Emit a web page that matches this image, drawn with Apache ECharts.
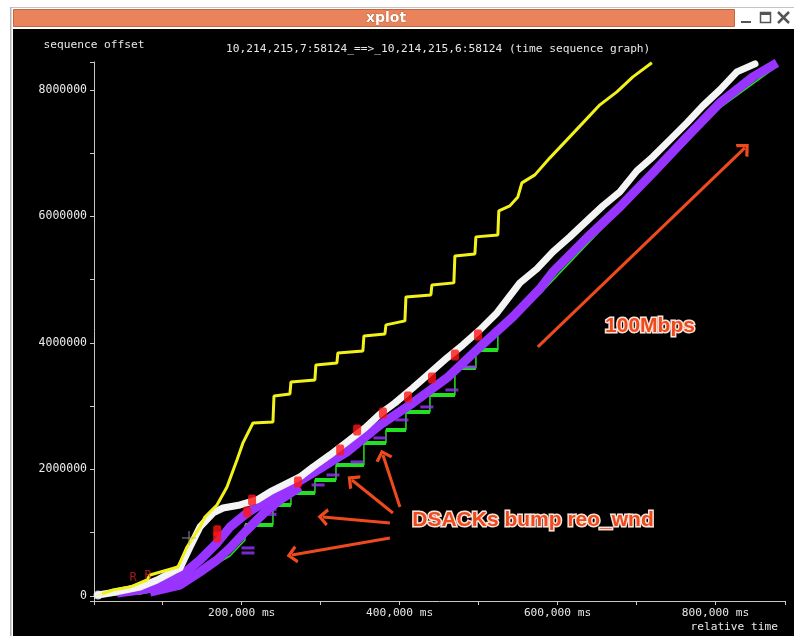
<!DOCTYPE html>
<html>
<head>
<meta charset="utf-8">
<script src="https://cdn.jsdelivr.net/npm/echarts@6/dist/echarts.min.js"></script>
<style>
  html, body { margin: 0; padding: 0; background: #fff; }
  #chart { width: 794px; height: 636px; }
</style>
</head>
<body>
<div id="chart"></div>
<script>
// xplot time sequence graph, relative time (ms) vs sequence offset (bytes).
// Values.

// yellow: advertised receive window edge
const advWindow = [
  [16000, 0], [37000, 95000], [58600, 142000], [80100, 253000], [83900, 332000],
  [119400, 458000], [130800, 775000], [147200, 1091000], [153500, 1249000], [168700, 1439000],
  [181400, 1723000], [194000, 2150000], [201600, 2419000], [214300, 2735000], [239600, 2751000],
  [240900, 3162000], [261100, 3194000], [262400, 3383000], [292700, 3415000], [294000, 3652000],
  [320600, 3684000], [321800, 3842000], [353500, 3873000], [354800, 4111000], [381400, 4142000],
  [382700, 4285000], [406700, 4348000], [408000, 4727000], [439600, 4759000], [440900, 4917000],
  [468700, 4949000], [470000, 5375000], [495300, 5407000], [496600, 5676000], [524400, 5707000],
  [525600, 6087000], [539600, 6166000], [549700, 6308000], [554800, 6530000], [571300, 6656000],
  [590300, 6925000], [611800, 7209000], [632100, 7478000], [653600, 7763000], [675100, 7968000],
  [695400, 8205000], [719400, 8427000]
]

// white: segments sent
const segsSent = [
  [18100, 15800], [33300, 47400], [71300, 142000], [92800, 253000], [121900, 443000],
  [134600, 775000], [147200, 1091000], [163700, 1312000], [176400, 1391000], [197800, 1439000],
  [219400, 1518000], [235800, 1644000], [248500, 1723000], [273800, 1881000], [290300, 2039000],
  [311800, 2229000], [333300, 2435000], [356100, 2656000], [375100, 2877000], [394000, 3051000],
  [416800, 3289000], [438400, 3526000], [459900, 3763000], [480100, 3968000], [501600, 4206000],
  [523200, 4474000], [552300, 4949000], [573800, 5170000], [594100, 5439000], [615600, 5676000],
  [637100, 5929000], [657400, 6166000], [678900, 6387000], [700400, 6719000], [720700, 6941000],
  [742200, 7209000], [763800, 7478000], [784000, 7747000], [805600, 8000000], [827100, 8284000],
  [850000, 8411000]
]

// purple: selectively acked band (main trace and the wider lower edge early on)
const sacked = [
  [42200, 47400], [71300, 94900], [92800, 142000], [121900, 300000], [147200, 569000],
  [168700, 838000], [185200, 1091000], [206700, 1312000], [248500, 1628000], [290300, 1945000],
  [333300, 2277000], [375100, 2704000], [416800, 3051000], [459900, 3447000], [501600, 3937000],
  [543400, 4411000], [577500, 4854000], [594100, 5122000], [637100, 5660000], [678900, 6150000],
  [720700, 6688000], [763800, 7257000], [805600, 7794000], [847400, 8205000], [877800, 8427000]
]
const sackedLow = [
  [83900, 63200], [121900, 173900], [147200, 379400], [168700, 569200], [185200, 758900],
  [206700, 1043500], [229500, 1328000], [248500, 1517800], [273800, 1723300]
]
// small purple sack blocks left behind below the band
const sackBlocks = [
  [208000, 680000], [208000, 760000], [235800, 1290000], [235800, 1370000], [296700, 1755000],
  [315600, 1913000], [346000, 2119000], [375100, 2498000], [402900, 2783000], [434500, 2988000],
  [466200, 3257000], [489000, 3620000]
]

// green: cumulative ack line (early ramp, stair steps, late ramp)
const ackEarly = [[20600, 0], [71300, 31600], [109200, 126500], [147200, 363600], [185200, 632400], [204200, 885400]]
const ackStepT = [204200, 239600, 262400, 292800, 319400, 354800, 382700, 408000, 438400, 470000, 496600, 524400]
const ackStepV = [1122500, 1438700, 1628400, 1834000, 2071100, 2418900, 2624500, 2909000, 3177800, 3604700, 3889300]
const ackLate = [[524400, 4205500], [577500, 4774600], [653500, 5770700], [729500, 6735100], [805400, 7715300], [875000, 8347000]]

// red: retransmissions
const retrans = [
  [169000, 933000], [169000, 1030000], [206900, 1328000], [213200, 1518000], [271300, 1802000],
  [324700, 2308000], [346200, 2624000], [378900, 2893000], [410600, 3146000], [441000, 3447000],
  [470100, 3810000], [499200, 4126000]
]
const rMarks = [[62400, 284600], [81400, 316200]]
const crossMark = [[133300, 917000]]

// annotation arrows (tail -> head)
const arrowFrom = [[575000, 3937000], [400400, 1407000], [391500, 1312000], [387700, 1155000], [387700, 917000]]
const arrowTo = [[837100, 7083000], [378900, 2229000], [339600, 1834000], [302900, 1249000], [263700, 648000]]

const mono = '"DejaVu Sans Mono", monospace'
const axisGrey = '#c8c8c8'
const purple = '#9933ff'
const green = '#22e022'
const annot = '#ee4a1e'

// build the stair-step ack line and its thick flat pieces
const ackLine = ackEarly.slice()
const ackFlats = []
for (let i = 0; i < ackStepV.length; i++) {
  ackLine.push([ackStepT[i], ackStepV[i]], [ackStepT[i + 1], ackStepV[i]])
  ackFlats.push([ackStepT[i], ackStepV[i]], [ackStepT[i + 1], ackStepV[i]], [ackStepT[i + 1], '-'])
}
ackLate.forEach(function (p) { ackLine.push(p) })

const arrowLines = arrowFrom.map(function (p, i) {
  return [{ coord: p }, { coord: arrowTo[i] }]
})

function fmtX(v) {
  return v > 0 && v % 200000 === 0 ? (v / 1000) + ',000 ms' : ''
}
function fmtY(v) {
  return v >= 0 && v % 2000000 === 0 ? String(v) : ''
}

const chart = echarts.init(document.getElementById('chart'))
chart.setOption({
  animation: false,
  backgroundColor: '#000',
  title: {
    text: '10,214,215,7:58124_==>_10,214,215,6:58124 (time sequence graph)',
    left: 226, top: 44, padding: 0,
    textStyle: { color: '#e8e8e8', fontFamily: mono, fontSize: 11.2, fontWeight: 'normal' }
  },
  grid: { left: 94, right: 9, top: 62, bottom: 35 },
  xAxis: {
    type: 'value', min: 13000, max: 888000,
    axisLine: { onZero: false, lineStyle: { color: axisGrey } },
    axisTick: { length: 4, lineStyle: { color: axisGrey } },
    minorTick: { show: true, splitNumber: 2, length: 4, lineStyle: { color: axisGrey } },
    splitLine: { show: false },
    axisLabel: { color: '#e6e6e6', fontFamily: mono, fontSize: 11.2, margin: 7, formatter: fmtX, showMinLabel: false, showMaxLabel: false }
  },
  yAxis: {
    type: 'value', min: -79000, max: 8440000,
    name: 'sequence offset', nameLocation: 'end', nameGap: 11,
    nameTextStyle: { color: '#e8e8e8', fontFamily: mono, fontSize: 11.2 },
    axisLine: { onZero: false, lineStyle: { color: axisGrey } },
    axisTick: { length: 4, lineStyle: { color: axisGrey } },
    minorTick: { show: true, splitNumber: 2, length: 4, lineStyle: { color: axisGrey } },
    splitLine: { show: false },
    axisLabel: { color: '#ececec', fontFamily: mono, fontSize: 11.5, margin: 7, formatter: fmtY, showMinLabel: false, showMaxLabel: false }
  },
  series: [
    { name: 'ack', type: 'line', data: ackLine, showSymbol: false, silent: true, z: 2,
      lineStyle: { color: green, width: 1.5 } },
    { name: 'ackFlat', type: 'line', data: ackFlats, showSymbol: false, silent: true, z: 2,
      lineStyle: { color: green, width: 4 } },
    { name: 'sackLow', type: 'line', data: sackedLow, showSymbol: false, silent: true, z: 3,
      lineStyle: { color: purple, width: 9 } },
    { name: 'sack', type: 'line', data: sacked, showSymbol: false, silent: true, z: 3,
      lineStyle: { color: purple, width: 9 } },
    { name: 'sackBlocks', type: 'scatter', data: sackBlocks, symbol: 'rect', symbolSize: [13, 3], silent: true, z: 3,
      itemStyle: { color: purple } },
    { name: 'sent', type: 'line', data: segsSent, showSymbol: false, silent: true, z: 4,
      lineStyle: { color: '#f4f4f4', width: 7, cap: 'round', join: 'round' } },
    { name: 'sentStart', type: 'scatter', data: segsSent.slice(0, 1), symbolSize: 9, silent: true, z: 4,
      itemStyle: { color: '#f4f4f4' } },
    { name: 'window', type: 'line', data: advWindow, showSymbol: false, silent: true, z: 4,
      lineStyle: { color: '#f2f21a', width: 3 } },
    { name: 'retrans', type: 'scatter', data: retrans, symbol: 'roundRect', symbolSize: [8, 11], silent: true, z: 5,
      itemStyle: { color: '#ff1414' } },
    { name: 'R', type: 'scatter', data: rMarks, symbolSize: 0, silent: true, z: 5,
      label: { show: true, formatter: 'R', color: '#d02020', fontFamily: mono, fontSize: 12, position: 'inside' } },
    { name: 'cross', type: 'scatter', data: crossMark, symbol: 'path://M6,0 L7,0 L7,6 L13,6 L13,7 L7,7 L7,13 L6,13 L6,7 L0,7 L0,6 L6,6 Z',
      symbolSize: 14, silent: true, z: 5, itemStyle: { color: '#aaaaaa' } },
    { name: 'notes', type: 'line', data: [], silent: true, z: 6,
      markLine: {
        silent: true, animation: false,
        symbol: ['none', 'path://M10,0 L20,10 L17,12 L10,5 L3,12 L0,10 Z'],
        symbolSize: [18, 11],
        label: { show: false },
        lineStyle: { color: annot, width: 3, type: 'solid' },
        data: arrowLines
      } }
  ],
  graphic: [
    // window chrome around the plot
    { type: 'rect', shape: { x: 0, y: 0, width: 794, height: 29 }, style: { fill: '#fff' }, silent: true },
    { type: 'rect', shape: { x: 0, y: 0, width: 13, height: 636 }, style: { fill: '#fff' }, silent: true },
    { type: 'rect', shape: { x: 10, y: 7, width: 784, height: 1 }, style: { fill: '#c4c4c4' }, silent: true },
    { type: 'rect', shape: { x: 10, y: 7, width: 1.5, height: 629 }, style: { fill: '#b4b4b4' }, silent: true },
    { type: 'rect', shape: { x: 13.5, y: 9.5, width: 721, height: 17 }, style: { fill: '#e9835b', stroke: '#c4663f', lineWidth: 1 }, silent: true },
    { type: 'text', x: 386, y: 18, silent: true,
      style: { text: 'xplot', fill: '#fff', stroke: '#9a4a2a', lineWidth: 0.6, font: 'bold 14px "DejaVu Sans"', align: 'center', verticalAlign: 'middle' } },
    { type: 'rect', shape: { x: 741, y: 21, width: 10, height: 2 }, style: { fill: '#555' }, silent: true },
    { type: 'rect', shape: { x: 760.5, y: 12.5, width: 10, height: 10 }, style: { fill: 'none', stroke: '#555', lineWidth: 1.5 }, silent: true },
    { type: 'rect', shape: { x: 760, y: 12, width: 11, height: 3 }, style: { fill: '#555' }, silent: true },
    { type: 'line', shape: { x1: 778, y1: 12, x2: 789, y2: 23 }, style: { stroke: '#555', lineWidth: 2.5 }, silent: true },
    { type: 'line', shape: { x1: 789, y1: 12, x2: 778, y2: 23 }, style: { stroke: '#555', lineWidth: 2.5 }, silent: true },
    { type: 'text', x: 778, y: 627, silent: true,
      style: { text: 'relative time', fill: '#e8e8e8', font: '11.2px ' + mono, align: 'right', verticalAlign: 'middle' } },
    // annotations
    { type: 'text', x: 650, y: 326, silent: true, z: 100,
      style: { text: '100Mbps', fill: 'none', stroke: '#fbe3da', lineWidth: 3, font: 'bold 21px "Liberation Sans"', align: 'center', verticalAlign: 'middle' } },
    { type: 'text', x: 650, y: 326, silent: true, z: 101,
      style: { text: '100Mbps', fill: annot, font: 'bold 21px "Liberation Sans"', align: 'center', verticalAlign: 'middle' } },
    { type: 'text', x: 533, y: 520, silent: true, z: 100,
      style: { text: 'DSACKs bump reo_wnd', fill: 'none', stroke: '#fbe3da', lineWidth: 3, font: 'bold 21px "Liberation Sans"', align: 'center', verticalAlign: 'middle' } },
    { type: 'text', x: 533, y: 520, silent: true, z: 101,
      style: { text: 'DSACKs bump reo_wnd', fill: annot, font: 'bold 21px "Liberation Sans"', align: 'center', verticalAlign: 'middle' } }
  ]
})
</script>
</body>
</html>
